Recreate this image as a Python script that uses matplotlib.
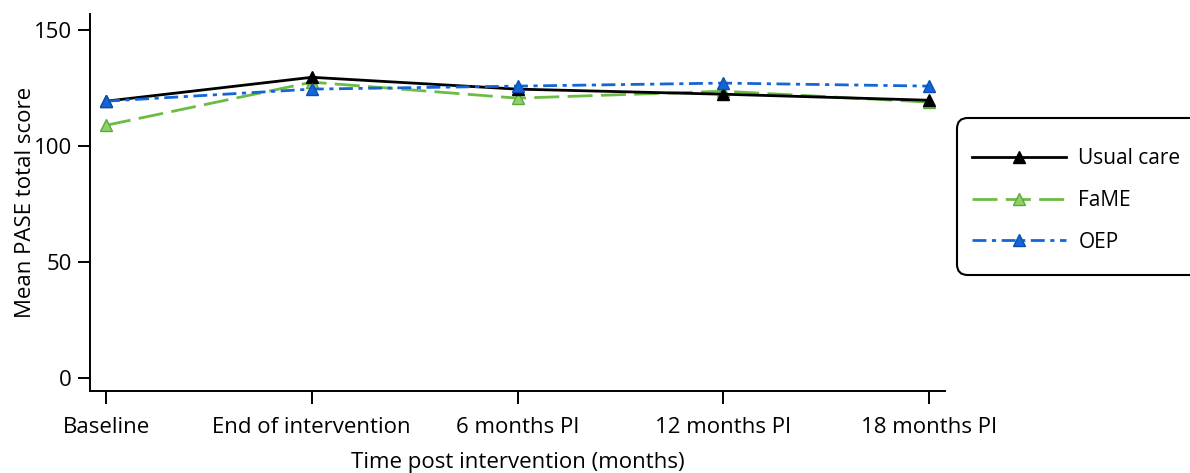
import matplotlib
matplotlib.use("Agg")
import matplotlib.pyplot as plt
from matplotlib.patches import FancyBboxPatch

plt.rcParams['font.family'] = ['Open Sans', 'DejaVu Sans']

timepoints = ['Baseline', 'End of intervention', '6 months PI', '12 months PI', '18 months PI']
usual_care = [119.4, 129.7, 124.6, 122.4, 119.8]
fame = [109.0, 127.6, 120.7, 123.7, 119.0]
oep = [119.4, 124.6, 125.9, 127.2, 125.9]

W, H = 1190, 473
fig = plt.figure(figsize=(W/100, H/100), dpi=100)
ax = fig.add_axes([90/W, 1-391/H, (945-90)/W, (391-14)/H])

x = range(len(timepoints))
ax.plot(x, usual_care, color='black', lw=2, marker='^', ms=9,
        mfc='black', mec='black', label='Usual care', zorder=3)
ax.plot(x, fame, color='#6cbb45', lw=2, ls=(0, (9, 3)), marker='^', ms=9,
        mfc='#8fd06a', mec='#5aac35', label='FaME', zorder=2)
ax.plot(x, oep, color='#1466d8', lw=2, ls=(0, (5, 2, 1.5, 2)), marker='^', ms=9,
        mfc='#1466d8', mec='#0a4fb5', label='OEP', zorder=4)

ax.set_xlim(-0.078, 4.078)
ax.set_ylim(-5.6, 157)
ax.set_yticks([0, 50, 100, 150])
ax.set_xticks(list(x))
ax.set_xticklabels(timepoints)
for s in ['top', 'right']:
    ax.spines[s].set_visible(False)
for s in ['left', 'bottom']:
    ax.spines[s].set_linewidth(1.4)
ax.tick_params(direction='out', length=9, width=1.4, labelsize=16, pad=4)
ax.tick_params(axis='x', pad=10)
ax.set_ylabel('Mean PASE total score', fontsize=16, labelpad=-2)
ax.set_xlabel('Time post intervention (months)', fontsize=16, labelpad=10)

# legend box drawn separately so it can run off the right edge like the original
box = FancyBboxPatch((957/W, 1-275/H), 260/W, 157/H, transform=fig.transFigure,
                     boxstyle='round,pad=0,rounding_size=0.009',
                     mutation_aspect=W/H, fc='white', ec='black', lw=1.5)
fig.patches.append(box)

leg = fig.legend(loc='upper left', bbox_to_anchor=(972/W, 1-148/H),
                 borderaxespad=0, borderpad=0, fontsize=15, frameon=False,
                 handlelength=4.5, labelspacing=1.0, handletextpad=0.6)

fig.savefig('out.png', dpi=100)
